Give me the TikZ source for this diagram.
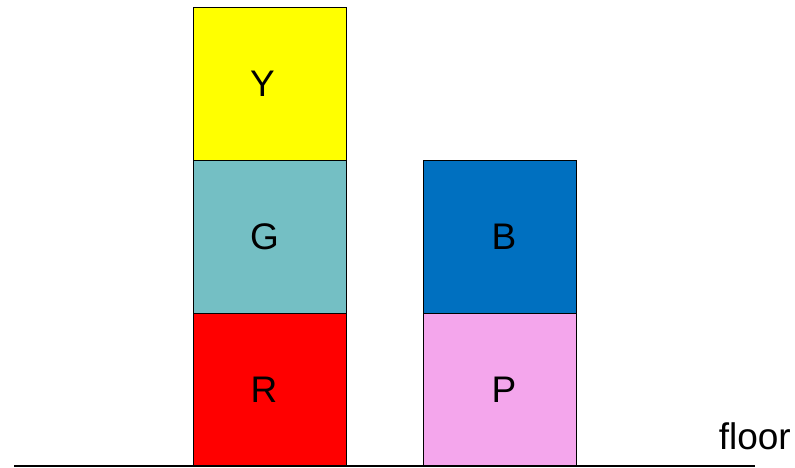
\documentclass[tikz,border=0pt]{standalone}
\usepackage{fontspec}
\setmainfont{Liberation Sans}
\definecolor{cy}{HTML}{FFFF00}
\definecolor{cg}{HTML}{74BFC4}
\definecolor{cr}{HTML}{FF0000}
\definecolor{cb}{HTML}{0070C0}
\definecolor{cp}{HTML}{F4A6EC}
\begin{document}
\begin{tikzpicture}[x=1pt,y=-1pt,
  blk/.style={draw=black,line width=1.2pt,minimum width=153pt,minimum height=153pt,inner sep=0pt,anchor=north west},
  lbl/.style={inner sep=0pt,font=\fontsize{37}{44}\selectfont}]
\useasboundingbox (0,0) rectangle (795,467);
\node[blk,fill=cy] (Y) at (193,7) {};
\node[blk,fill=cg] (G) at (193,160) {};
\node[blk,fill=cr] (R) at (193,313) {};
\node[blk,fill=cb] (B) at (423,160) {};
\node[blk,fill=cp] (P) at (423,313) {};
\node[lbl] (Yt) at (262.5,83.5) {Y};
\node[lbl] (Gt) at (264.5,236.5) {G};
\node[lbl] (Rt) at (264,389.5) {R};
\node[lbl] (Bt) at (504,236.5) {B};
\node[lbl] (Pt) at (504,389.5) {P};
\coordinate (fl) at (14,466);
\coordinate (fr) at (755,466);
\draw[line width=1.2pt] (fl) -- (fr);
\node[anchor=base east,font=\fontsize{37}{44}\selectfont,inner sep=0pt] (floor) at (791,449) {floor};
\end{tikzpicture}
\end{document}
